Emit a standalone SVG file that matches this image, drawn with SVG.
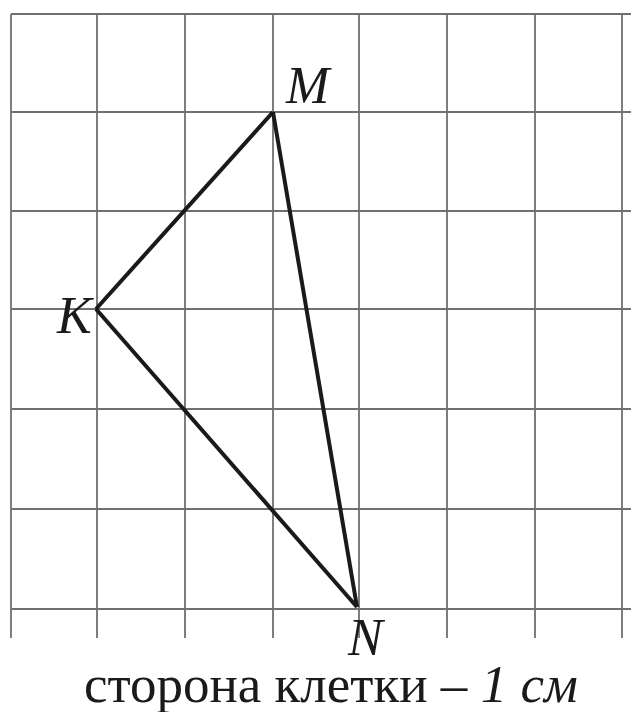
<svg xmlns="http://www.w3.org/2000/svg" width="631" height="712" viewBox="0 0 631 712">
<style>
.grid line{stroke:#707070;stroke-width:1.8}
.edge{stroke:#1a1a1a;stroke-width:4;fill:none;stroke-linejoin:miter}
.lbl{font-family:"Liberation Serif","Times New Roman",serif;font-style:italic;font-size:52px;fill:#1a1a1a}
.cap{font-family:"Liberation Serif","Times New Roman",serif;font-size:53px;fill:#1a1a1a}
</style>
<rect width="631" height="712" fill="#ffffff"/>
<g id="grid" class="grid">
<line x1="11" y1="14" x2="11" y2="638"/>
<line x1="97" y1="14" x2="97" y2="638"/>
<line x1="185" y1="14" x2="185" y2="638"/>
<line x1="273" y1="14" x2="273" y2="638"/>
<line x1="359" y1="14" x2="359" y2="638"/>
<line x1="447" y1="14" x2="447" y2="638"/>
<line x1="535" y1="14" x2="535" y2="638"/>
<line x1="622" y1="14" x2="622" y2="638"/>
<line x1="11" y1="14" x2="631" y2="14"/>
<line x1="11" y1="112" x2="631" y2="112"/>
<line x1="11" y1="211" x2="631" y2="211"/>
<line x1="11" y1="309" x2="631" y2="309"/>
<line x1="11" y1="409" x2="631" y2="409"/>
<line x1="11" y1="509" x2="631" y2="509"/>
<line x1="11" y1="609" x2="631" y2="609"/>
</g>
<g id="connectors">
<line class="edge" x1="273" y1="112" x2="96" y2="309"/>
<line class="edge" x1="96" y1="309" x2="357" y2="607"/>
<line class="edge" x1="357" y1="607" x2="273" y2="112"/>
</g>
<g id="M"><text class="lbl" x="286" y="103">M</text></g>
<g id="K"><text class="lbl" x="57" y="333">K</text></g>
<g id="N"><text class="lbl" x="348" y="655">N</text></g>
<g id="caption"><text class="cap" x="84" y="702">сторона клетки – <tspan font-style="italic">1 см</tspan></text></g>
</svg>
